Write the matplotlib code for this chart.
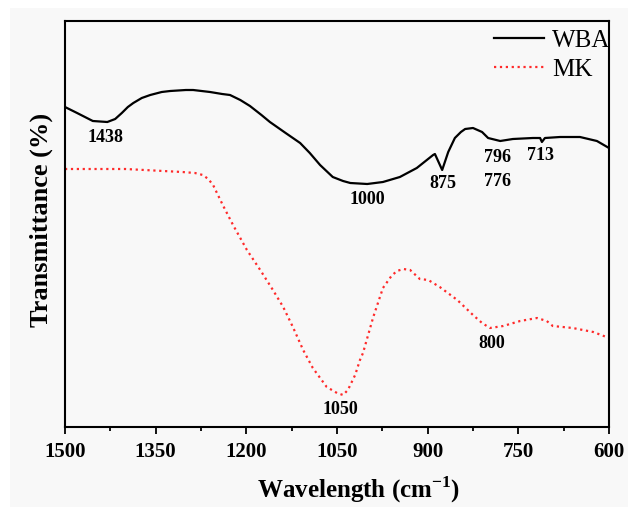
import matplotlib
matplotlib.use('Agg')
import matplotlib.pyplot as plt
from matplotlib.patches import Rectangle
from matplotlib.ticker import MultipleLocator

plt.rcParams['font.family'] = ['Liberation Serif', 'DejaVu Serif']
plt.rcParams['mathtext.fontset'] = 'custom'
plt.rcParams['mathtext.rm'] = 'Liberation Serif:bold'
plt.rcParams['mathtext.bf'] = 'Liberation Serif:bold'

# wavenumber (cm-1) and relative transmittance
wba_x = [1500, 1480, 1454, 1430, 1417, 1406, 1396, 1387, 1373, 1359, 1340, 1326, 1300,
         1288, 1260, 1240, 1227, 1210, 1194, 1175, 1161, 1135, 1111, 1095, 1078, 1057, 1040,
         1028, 1000, 974, 946, 918, 891, 888, 882, 876, 871, 866, 855, 845, 838, 825, 810,
         800, 780, 759, 726, 714, 711, 706, 681, 648, 620, 600]
wba_y = [320, 314, 306, 305, 308, 314, 320, 324, 329, 332, 335, 336, 337,
         337, 335, 333, 332, 327, 321, 312, 305, 294, 284, 274, 262, 250, 246,
         244, 243, 245, 250, 259, 272, 273, 265, 257, 266, 275, 289, 295, 298, 299, 295,
         289, 286, 288, 289, 289, 285, 289, 290, 290, 286, 279]

mk_x = [1500, 1400, 1306, 1285, 1272, 1263, 1255, 1239, 1222, 1199, 1177, 1156, 1139,
        1123, 1106, 1090, 1067, 1050, 1040, 1032, 1020, 1012, 1007, 990, 974, 960, 951,
        940, 929, 913, 899, 880, 851, 825, 810, 797, 775, 747, 719, 703, 693, 660, 626, 600]
mk_y = [258, 258, 255, 254, 252, 248, 242, 222, 202, 177, 157, 137, 120,
        100, 77, 59, 40, 34, 32, 37, 52, 67, 74, 110, 139, 151, 156,
        158, 157, 148, 147, 140, 127, 112, 104, 99, 101, 106, 109, 106, 101, 99, 95, 89]

peak_labels = ['1438', '1000', '875', '796', '776', '713', '1050', '800']
peak_x = [1433, 999, 875, 784, 784, 714, 1045, 794]
peak_y = [290, 228, 243, 270, 245, 271, 18, 84]

fig = plt.figure(figsize=(6.28, 5.07), dpi=100)
fig.patch.set_facecolor('white')
fig.patches.append(Rectangle((10/628, 0), 618/628, 499/507, transform=fig.transFigure,
                             facecolor='#f8f8f8', edgecolor='none', zorder=-10))
ax = fig.add_axes([65/628, 80/507, 544/628, 406/507])
ax.set_facecolor('#f8f8f8')

ax.plot(wba_x, wba_y, color='black', lw=1.6, label='WBA')
ax.plot(mk_x, mk_y, color='#ff2a2a', lw=1.6, ls=':', label='MK')

for t, x, y in zip(peak_labels, peak_x, peak_y):
    ax.text(x, y, t, ha='center', va='center', fontsize=13, fontweight='bold')

ax.set_xlim(1500, 600)
ax.set_ylim(0, 406)
ax.set_xticks([1500, 1350, 1200, 1050, 900, 750, 600])
ax.xaxis.set_minor_locator(MultipleLocator(75))
ax.set_yticks([])
ax.tick_params(axis='x', which='major', direction='out', length=5, width=1.3, labelsize=15, pad=6)
ax.tick_params(axis='x', which='minor', direction='out', length=3, width=1.3)
for lab in ax.get_xticklabels():
    lab.set_fontweight('bold')
for s in ax.spines.values():
    s.set_linewidth(1.5)

ax.set_xlabel('Wavelength (cm$^{-1}$)', fontsize=18, fontweight='bold')
ax.xaxis.set_label_coords((359 - 65) / 544, -0.118)
ax.set_ylabel('Transmittance (%)', fontsize=19, fontweight='bold')
ax.yaxis.set_label_coords(-0.022, (427 - 220) / 406)

ax.legend(loc='upper right', bbox_to_anchor=(1.018, 1.0), frameon=False, fontsize=18,
          handlelength=2.0, handletextpad=0.32, labelspacing=0.27,
          borderaxespad=0.0, borderpad=0.33)

plt.savefig('out.png', dpi=100, facecolor=fig.get_facecolor())
